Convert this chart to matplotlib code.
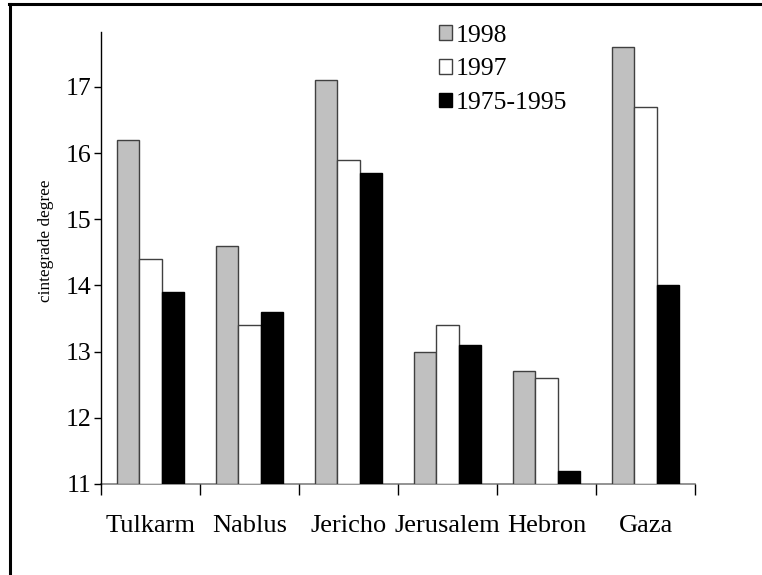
import numpy as np
import matplotlib
matplotlib.use('Agg')
import matplotlib.pyplot as plt
import matplotlib.patches as mpatches
from matplotlib.lines import Line2D

plt.rcParams['font.family'] = ['Liberation Serif', 'DejaVu Serif']

cities = ['Tulkarm', 'Nablus', 'Jericho', 'Jerusalem', 'Hebron', 'Gaza']
series_names = ['1998', '1997', '1975-1995']
t1998 = [16.2, 14.6, 17.1, 13.0, 12.7, 17.6]
t1997 = [14.4, 13.4, 15.9, 13.4, 12.6, 16.7]
t1975_1995 = [13.9, 13.6, 15.7, 13.1, 11.2, 14.0]
yticks = [11, 12, 13, 14, 15, 16, 17]

W, H = 762, 575
fig = plt.figure(figsize=(W / 100, H / 100), dpi=100)
ax = fig.add_axes([101 / W, 1 - 484 / H, 594 / W, 452 / H])

fills = ['#c0c0c0', 'white', 'black']
edges = ['#404040', '#404040', 'black']
x = np.arange(len(cities))
bw = 0.227
for k, vals in enumerate([t1998, t1997, t1975_1995]):
    ax.bar(x + (k - 1) * bw, np.array(vals) - 11, bottom=11, width=bw,
           color=fills[k], edgecolor=edges[k], linewidth=1.0, zorder=2)

ax.set_xlim(-0.5, len(cities) - 0.5)
ax.set_ylim(11, 17.83)
ax.set_yticks(yticks)
ax.set_yticklabels([str(v) for v in yticks], fontsize=18.5)
ax.set_xticks(np.arange(len(cities) + 1) - 0.5)
ax.set_xticklabels([])
ax.set_xticks(x, minor=True)
ax.set_xticklabels(cities, minor=True, fontsize=19)
ax.tick_params(axis='x', which='major', direction='out', length=8, width=1, color='black')
ax.tick_params(axis='x', which='minor', length=0, pad=22)
ax.tick_params(axis='y', direction='out', length=5, width=1, pad=2)

ax.spines['top'].set_visible(False)
ax.spines['right'].set_visible(False)
ax.spines['bottom'].set_color('#808080')
ax.spines['bottom'].set_linewidth(1.2)
ax.spines['left'].set_linewidth(1.0)
ax.spines['bottom'].set_zorder(1)

ax.set_ylabel('cintegrade degree', fontsize=12.4)
ax.yaxis.set_label_coords(54 / W, 1 - 241 / H, transform=fig.transFigure)

# legend
handles = [mpatches.Patch(facecolor=fills[k], edgecolor=edges[k], linewidth=1.0)
           for k in range(3)]
leg = fig.legend(handles, series_names, loc='upper left',
                 bbox_to_anchor=(426 / W, 1 - 12 / H), frameon=False,
                 fontsize=18.5, handlelength=0.5, handleheight=0.5,
                 handletextpad=0.15, labelspacing=0.45, borderpad=0)

# outer frame (only left/top visible in the crop)
fig.add_artist(Line2D([9.5 / W, 9.5 / W], [0, 1 - 3.5 / H],
                      transform=fig.transFigure, color='black', linewidth=2.2))
fig.add_artist(Line2D([8.5 / W, 1], [1 - 3.5 / H, 1 - 3.5 / H],
                      transform=fig.transFigure, color='black', linewidth=2.2))

fig.savefig('out.png', dpi=100)
